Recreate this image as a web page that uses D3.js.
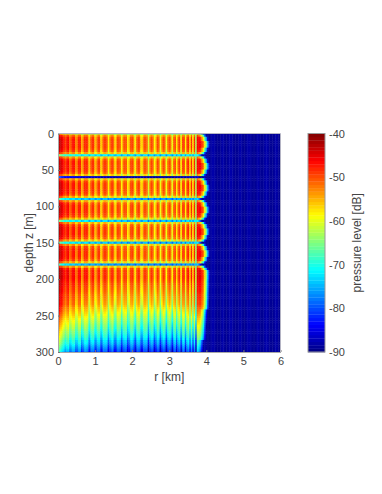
<!DOCTYPE html>
<html>
<head>
<meta charset="utf-8">
<script src="https://cdn.jsdelivr.net/npm/d3@7"></script>
<style>
  html, body { margin: 0; padding: 0; background: #fff; }
  svg { display: block; }
  text { font-family: "Liberation Sans", sans-serif; }
</style>
</head>
<body>
<svg id="chart" width="382" height="494"></svg>
<script>
const rangeTicks = [0, 1, 2, 3, 4, 5, 6]
const depthTicks = [0, 50, 100, 150, 200, 250, 300]
const levelTicks = [-40, -50, -60, -70, -80, -90]
const jetStops = ["#000080", "#0000ff", "#00ffff", "#ffff00", "#ff0000", "#800000"]
const jetLevels = [-90, -83.75, -71.25, -58.75, -46.25, -40]

// one entry per depth row, 3 m apart, z = 0 to 300
const rowLevel = [
  -66, -55, -52.5, -52, -52, -52, -52, -52.5, -53.5, -57,
  -73, -57, -53, -52, -52, -52, -52, -52.5, -53.5, -58,
  -88, -57, -53, -52, -52, -52, -52, -52.5, -53.5, -58,
  -76, -57, -53, -52, -52, -52, -52, -52.5, -53.5, -58,
  -74, -57, -53, -52, -52, -52, -52, -52.5, -53.5, -58,
  -75, -57, -53, -52, -52, -52, -52, -52.5, -53.5, -58,
  -77, -57, -52, -51, -51, -51, -51, -51.5, -52, -52.5,
  -53, -53.5, -54, -54.5, -55, -55.5, -56, -56.5, -57, -58,
  -59, -60, -61, -62, -63, -64, -65, -66, -67, -68,
  -69, -70, -71, -72, -73.5, -75, -76, -77.5, -79, -80.5, -82,
]
const rowSlope = [
  1, 1, 1, 1, 1, 1, 1, 1, 1, 1,
  1, 1, 1, 1, 1, 1, 1, 1, 1, 1,
  1, 1, 1, 1, 1, 1, 1, 1, 1, 1,
  1, 1, 1, 1, 1, 1, 1, 1, 1, 1,
  1, 1, 1, 1, 1, 1, 1, 1, 1, 1,
  1, 1, 1, 1, 1, 1, 1, 1, 1, 1,
  1, 1, 1, 1, 1, 1, 1, 1, 1, 1.1,
  1.1, 1.1, 1.2, 1.2, 1.2, 1.3, 1.3, 1.3, 1.4, 1.4,
  1.4, 1.5, 1.5, 1.5, 1.5, 1.5, 1.5, 1.5, 1.5, 1.5,
  1.5, 1.5, 1.5, 1.5, 1.5, 1.5, 1.5, 1.5, 1.5, 1.5, 1.5,
]
const rowRipple = [
  0.5, 0.8, 1, 1, 1, 1, 1, 1, 1, 0.8,
  0.5, 0.8, 1, 1, 1, 1, 1, 1, 1, 0.8,
  0.2, 0.8, 1, 1, 1, 1, 1, 1, 1, 0.8,
  0.4, 0.8, 1, 1, 1, 1, 1, 1, 1, 0.8,
  0.5, 0.8, 1, 1, 1, 1, 1, 1, 1, 0.8,
  0.5, 0.8, 1, 1, 1, 1, 1, 1, 1, 0.8,
  0.4, 0.8, 1, 1, 1, 1, 1, 1, 1, 1,
  1, 1, 1, 1, 1, 1, 1, 1, 1, 1,
  0.9, 0.9, 0.9, 0.9, 0.8, 0.8, 0.8, 0.8, 0.8, 0.8,
  0.8, 0.8, 0.8, 0.8, 0.8, 0.8, 0.8, 0.8, 0.8, 0.8, 0.8,
]
// column index (0.04 km each) where the field starts to fall away
const rowEdge = [
  93, 94, 95, 95, 96, 96, 96, 95, 95, 94,
  93, 94, 95, 95, 96, 96, 96, 95, 95, 94,
  93, 94, 95, 95, 96, 96, 96, 95, 95, 94,
  93, 94, 95, 95, 96, 96, 96, 95, 95, 94,
  93, 94, 95, 95, 96, 96, 96, 95, 95, 94,
  93, 94, 95, 95, 96, 96, 96, 95, 95, 94,
  93, 94, 95, 96, 96, 96, 96, 96, 96, 96,
  96, 96, 96, 96, 96, 96, 96, 96, 96, 96,
  96, 95, 95, 95, 95, 95, 95, 95, 95, 95,
  95, 95, 95, 95, 95, 94, 94, 94, 94, 94, 94,
]
// one entry per range column up to the edge
const colTrend = [
  10, 9, 7, 5.5, 5, 4.5, 4, 4, 3.5, 3.5,
  3, 3, 3, 2.5, 2.5, 2.5, 2, 2, 2, 2,
  2, 1.5, 1.5, 1.5, 1.5, 1.5, 1.5, 1, 1, 1,
  1, 1, 1, 1, 1, 0.5, 0.5, 0.5, 0.5, 0.5,
  0.5, 0.5, 0.5, 0.5, 0.5, 0, 0, 0, 0, 0,
  0, 0, 0, 0, 0, 0, 0, 0, 0, 0,
  0, -0.5, -0.5, -0.5, -0.5, -0.5, -0.5, -0.5, -0.5, -0.5,
  -0.5, -0.5, -0.5, -0.5, -0.5, -0.5, -0.5, -0.5, -0.5, 0,
  0, 0, 0, 0, 0.5, 0.5, 0.5, 0.5, 1, 1,
  1, 1, 1, 1, 5, 5, 5, 5, 5, 5,
]
const colRipple = [
  0, 0, 1, 1, 0, -2, 1, 2, -3, -1,
  2, 2, -4, -2, 2, 2, -5, -2, 2, 2,
  1, -6, -1, 2, 2, -5, -3, 2, 2, -6,
  -2, 2, 2, 1, -7, -1, 2, 3, -4, -5,
  2, 2, 0, -7, 0, 2, 2, -6, -3, 2,
  3, 0, -7, 0, 3, 2, -5, -4, 2, 2,
  1, -8, 0, 3, 2, -6, -3, 3, 2, -7,
  -1, 3, 2, -7, 0, 3, 1, -7, 1, 3,
  -6, 1, 3, -7, 2, 3, -7, 2, 3, -6,
  3, -7, 3, -12, 1, 1, 1, 1, 1, 1,
]
const edgeFall = [0, -2, -6, -12, -20, -30, -40, -50]
const farTexture = [-89, -89, -88.5, -88, -88.5, -89, -89, -88.5, -88, -88, -88.5, -89]
const colCount = 150
const colStep = 0.04
const rowStep = 3

const svg = d3.select("#chart")
const m = {left: 58, right: 280.5, top: 133.5, bottom: 352}

const x = d3.scaleLinear().domain([0, 6]).range([m.left, m.right])
const y = d3.scaleLinear().domain([0, 300]).range([m.top, m.bottom])
const lv = d3.scaleLinear().domain([-40, -90]).range([m.top, m.bottom])
const jet = d3.scaleLinear().domain(jetLevels).range(jetStops).clamp(true)

function cellLevel(row, col) {
  const far = farTexture[col % farTexture.length]
  const edge = rowEdge[row]
  if (col >= colRipple.length && col - edge >= edgeFall.length) return far
  const c = Math.min(col, colRipple.length - 1)
  const ripple = col >= edge ? colRipple[colRipple.length - 1] : colRipple[c]
  let v = rowLevel[row] + colTrend[c] * rowSlope[row] + ripple * rowRipple[row]
  if (col >= edge) {
    const past = col - edge
    if (past >= edgeFall.length) return far
    v += edgeFall[past]
  }
  return Math.max(v, far)
}

const cells = []
rowLevel.forEach((_, row) => {
  d3.range(colCount).forEach((col) => cells.push({row, col, v: cellLevel(row, col)}))
})

const defs = svg.append("defs")
defs.append("clipPath").attr("id", "plot-clip").append("rect")
  .attr("x", m.left).attr("y", m.top)
  .attr("width", m.right - m.left).attr("height", m.bottom - m.top)
defs.append("filter").attr("id", "soft")
  .attr("x", "-5%").attr("y", "-5%").attr("width", "110%").attr("height", "110%")
  .append("feGaussianBlur").attr("stdDeviation", 0.6)

svg.append("g").attr("clip-path", "url(#plot-clip)")
  .append("g").attr("filter", "url(#soft)")
  .selectAll("rect")
  .data(cells)
  .join("rect")
  .attr("x", (d) => x(d.col * colStep) - 0.75)
  .attr("y", (d) => y((d.row - 0.5) * rowStep))
  .attr("width", x(colStep) - x(0) + 0.4)
  .attr("height", y(rowStep) - y(0) + 0.4)
  .attr("fill", (d) => jet(d.v))

const styleAxis = (g) => {
  g.selectAll("path").attr("stroke", "#a8a8a8").attr("stroke-width", 1)
  g.selectAll("line").attr("stroke", "#777")
  g.selectAll("text").attr("fill", "#444").attr("font-size", 11).attr("font-family", "Liberation Sans, sans-serif")
}

svg.append("g")
  .attr("transform", `translate(0,${m.bottom})`)
  .call(d3.axisBottom(x).tickValues(rangeTicks).tickFormat(d3.format("d")).tickSizeInner(-2).tickSizeOuter(0).tickPadding(5))
  .call(styleAxis)

svg.append("g")
  .attr("transform", `translate(${m.left},0)`)
  .call(d3.axisLeft(y).tickValues(depthTicks).tickFormat(d3.format("d")).tickSizeInner(-2).tickSizeOuter(0).tickPadding(4))
  .call(styleAxis)

// top and right edges of the box
svg.append("path")
  .attr("d", d3.line()([[x(0), y(0)], [x(6), y(0)], [x(6), y(300)]]))
  .attr("fill", "none").attr("stroke", "#b4b4c4")

svg.append("text")
  .attr("x", x(3)).attr("y", 381)
  .attr("text-anchor", "middle").attr("font-size", 12).attr("fill", "#444")
  .text("r [km]")

svg.append("text")
  .attr("transform", `translate(33,${y(150)}) rotate(-90)`)
  .attr("text-anchor", "middle").attr("font-size", 12).attr("fill", "#444")
  .text("depth z [m]")

// colorbar
const barX0 = 308
const barX1 = 325
const barLevels = d3.range(64).map((i) => -90 + (i + 0.5) * 50 / 64)
svg.append("g").selectAll("rect")
  .data(barLevels)
  .join("rect")
  .attr("x", barX0)
  .attr("y", (d) => lv(d + 25 / 64))
  .attr("width", barX1 - barX0)
  .attr("height", lv(-40 - 50 / 64) - lv(-40) + 0.3)
  .attr("fill", (d) => jet(d))

svg.append("rect")
  .attr("x", barX0).attr("y", lv(-40))
  .attr("width", barX1 - barX0).attr("height", lv(-90) - lv(-40))
  .attr("fill", "none").attr("stroke", "#999")

svg.append("g")
  .attr("transform", `translate(${barX1},0)`)
  .call(d3.axisRight(lv).tickValues(levelTicks).tickFormat(d3.format("d")).tickSizeInner(0).tickSizeOuter(0).tickPadding(4))
  .call(styleAxis)
  .call((g) => g.select("path").remove())
  .call((g) => g.selectAll(".tick text").text((d) => "-" + Math.abs(d)))

svg.append("text")
  .attr("transform", `translate(361,${lv(-65)}) rotate(-90)`)
  .attr("text-anchor", "middle").attr("font-size", 12).attr("fill", "#444")
  .text("pressure level [dB]")
</script>
</body>
</html>
